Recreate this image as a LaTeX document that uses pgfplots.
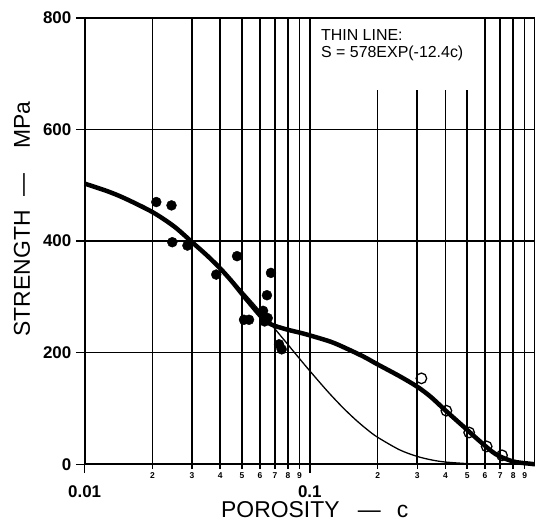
\documentclass[border=0pt]{standalone}
\usepackage{fontspec}
\setmainfont{Liberation Sans}
\usepackage{pgfplots}
\pgfplotsset{compat=1.18}

% thick line: smooth fit through all data
\pgfplotstableread{
c S
0.010 503
0.0125 490
0.015 477
0.020 452
0.025 426
0.030 398
0.035 374
0.040 351
0.045 328
0.050 305
0.055 285
0.060 267
0.065 254
0.070 248
0.080 241
0.090 236
0.100 231
0.125 219
0.150 205
0.175 192
0.200 179
0.250 158
0.300 139
0.344 121
0.404 95
0.480 68
0.570 41
0.670 18
0.800 5
0.950 1
1.000 0
}\thick

% thin line: S = 578 exp(-12.4c)
\pgfplotstableread{
c S
0.020 451.1
0.025 423.9
0.030 398.5
0.035 374.5
0.040 352.0
0.045 330.8
0.050 310.9
0.055 292.2
0.060 274.7
0.065 258.2
0.070 242.6
0.080 214.3
0.090 189.3
0.100 167.3
0.120 130.5
0.140 101.8
0.160 79.5
0.180 62.0
0.200 48.4
0.250 26.0
0.300 14.0
0.350 7.5
0.400 4.0
0.500 1.2
0.600 0.35
0.800 0.03
1.000 0
}\thin

\begin{document}
\begin{tikzpicture}
\begin{axis}[
  scale only axis, width=452pt, height=448pt,
  xmode=log, xmin=0.01, xmax=1, ymin=0, ymax=800,
  axis line style={line width=1.8pt},
  xtick={0.01,0.1}, xticklabels={0.01,0.1},
  minor xtick={},
  ytick={0,200,400,600,800},
  xtick pos=bottom, ytick pos=left,
  tick align=outside, major tick length=9pt,
  tick style={black, line width=1.5pt},
  /pgf/number format/assume math mode=true,
  yticklabel style={font=\fontsize{17}{17}\selectfont\bfseries, xshift=-1pt},
  xticklabel style={font=\fontsize{17}{17}\selectfont\bfseries, yshift=-9pt},
  extra x ticks={0.02,0.03,0.04,0.05,0.06,0.07,0.08,0.09,0.2,0.3,0.4,0.5,0.6,0.7,0.8,0.9},
  extra x tick labels={2,3,4,5,6,7,8,9,2,3,4,5,6,7,8,9},
  extra x tick style={
    major tick length=5pt,
    xticklabel style={font=\fontsize{8.5}{8.5}\selectfont\bfseries, yshift=9pt}},
  xlabel={POROSITY\hspace{0.8em}—\hspace{0.7em}c},
  ylabel={STRENGTH\hspace{0.6em}—\hspace{1.1em}MPa},
  x label style={font=\fontsize{23}{23}\selectfont, at={(axis description cs:0.511,-0.102)}, anchor=center},
  y label style={font=\fontsize{23}{23}\selectfont, at={(axis description cs:-0.1394,0.55)}, anchor=center},
  clip=false,
]
% grid
\pgfplotsinvokeforeach{0.02,0.03,0.04,0.05,0.06,0.07,0.08,0.09,0.1,0.6,0.7,0.8,0.9}{
  \draw[line width=1.6pt] (axis cs:#1,0) -- (axis cs:#1,800);}
\pgfplotsinvokeforeach{0.2,0.3,0.4,0.5}{
  \draw[line width=1.6pt] (axis cs:#1,0) -- (axis cs:#1,671);}
\pgfplotsinvokeforeach{200,400,600}{
  \draw[line width=1.3pt] (axis cs:0.01,#1) -- (axis cs:1,#1);}

\addplot[black, line width=1.3pt, smooth] table[x=c, y=S] {\thin};
\addplot[black, line width=4.5pt, smooth] table[x=c, y=S] {\thick};

\addplot[only marks, mark=*, mark size=5pt, black] coordinates {
(0.0208,470) (0.0243,464) (0.0245,398) (0.0286,392) (0.0384,340)
(0.0475,373) (0.051,259) (0.0537,259) (0.062,275) (0.0645,303)
(0.0672,343) (0.063,256) (0.065,262) (0.073,215) (0.075,206)};
\addplot[only marks, mark=o, mark size=5.3pt, black, line width=1.3pt,
  mark options={fill=white}] coordinates {
(0.313,154) (0.404,96) (0.51,57) (0.61,32) (0.714,16)};

\node[anchor=north west, inner sep=0pt, align=left,
  font=\fontsize{16}{17}\selectfont] at (axis cs:0.112,779)
  {THIN LINE:\\S = 578EXP(-12.4c)};
\end{axis}
\pgfresetboundingbox
\path (current axis.south west) ++(-85pt,-58pt) coordinate (bl);
\path (current axis.north east) ++(-2pt,18pt) coordinate (tr);
\path (bl) rectangle (tr);
\end{tikzpicture}
\end{document}
